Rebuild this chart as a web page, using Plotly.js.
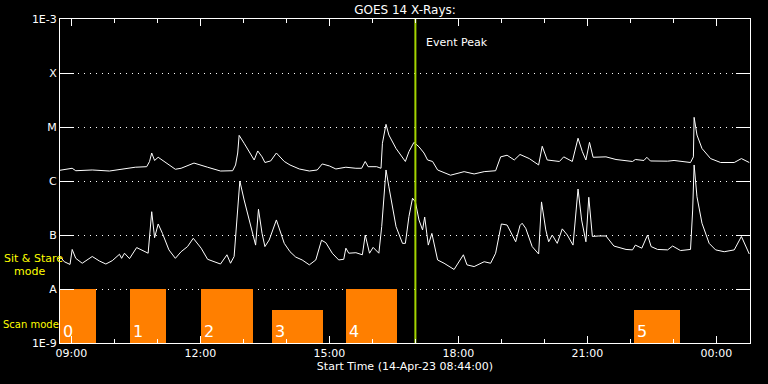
<!DOCTYPE html>
<html><head><meta charset="utf-8">
<script src="https://cdn.plot.ly/plotly-3.0.1.min.js"></script>
<style>html,body{margin:0;padding:0;background:#000;}#chart{width:768px;height:384px;}</style>
</head><body><div id="chart"></div>
<script>
const longTime = ["08:44","09:01","09:06","09:29","09:53","10:11","10:29","10:45","10:49","10:52",
"10:56","11:01","11:12","11:25","11:33","11:51","12:10","12:28","12:45","12:49",
"12:52","12:54","13:01","13:15","13:20","13:26","13:30","13:38","13:46","13:57",
"14:05","14:18","14:32","14:43","14:50","15:00","15:09","15:23","15:37","15:45",
"15:50","15:54","16:06","16:12","16:14","16:19","16:23","16:33","16:46","16:51",
"16:58","17:05","17:12","17:17","17:24","17:31","17:49","18:08","18:22","18:36",
"18:52","18:59","19:08","19:18","19:26","19:39","19:52","19:57","20:04","20:11",
"20:21","20:27","20:39","20:47","20:53","20:58","21:03","21:08","21:26","21:40",
"22:03","22:07","22:19","22:23","22:28","22:52","23:01","23:24","23:28","23:29",
"23:33","23:40","23:52","00:06","00:25","00:35","00:46"];
const longFlux = [1.58e-6,1.72e-6,1.55e-6,1.6e-6,1.53e-6,1.65e-6,1.8e-6,1.84e-6,2.3e-6,3.3e-6,
2.4e-6,2.75e-6,2.2e-6,1.65e-6,1.72e-6,2.15e-6,1.8e-6,1.53e-6,1.55e-6,1.98e-6,
3.3e-6,7.0e-6,5.0e-6,2.45e-6,3.6e-6,2.8e-6,2.2e-6,2.35e-6,3.3e-6,2.3e-6,
1.98e-6,1.67e-6,1.53e-6,1.6e-6,2.07e-6,1.9e-6,1.67e-6,1.8e-6,1.72e-6,1.72e-6,
2.3e-6,1.84e-6,1.84e-6,1.72e-6,5.0e-6,1.12e-5,7.1e-6,4.0e-6,2.3e-6,3.5e-6,
5.2e-6,4.3e-6,3.3e-6,2.45e-6,2.3e-6,1.6e-6,1.28e-6,1.49e-6,1.35e-6,1.49e-6,
1.55e-6,2.8e-6,3.0e-6,2.45e-6,3.1e-6,2.6e-6,1.98e-6,4.4e-6,2.45e-6,2.4e-6,
2.3e-6,2.8e-6,2.3e-6,6.2e-6,3.5e-6,2.45e-6,5.2e-6,2.75e-6,2.8e-6,2.5e-6,
2.3e-6,2.5e-6,2.4e-6,2.75e-6,2.35e-6,2.33e-6,2.4e-6,2.2e-6,2.8e-6,1.51e-5,
7.1e-6,4.0e-6,2.6e-6,2.2e-6,2.2e-6,2.6e-6,2.2e-6];
const shortTime = ["08:44","08:50","08:58","09:01","09:06","09:15","09:29","09:39","09:48","09:57",
"10:07","10:10","10:14","10:21","10:31","10:44","10:47","10:52","10:56","11:01",
"11:07","11:16","11:25","11:33","11:42","11:50","12:01","12:10","12:28","12:37",
"12:42","12:47","12:52","12:55","13:01","13:08","13:17","13:21","13:26","13:30",
"13:36","13:46","13:57","14:05","14:13","14:22","14:32","14:41","14:49","14:55",
"15:04","15:13","15:20","15:23","15:27","15:37","15:46","15:50","15:56","16:01",
"16:09","16:13","16:19","16:23","16:33","16:42","16:46","16:51","16:56","17:00",
"17:05","17:10","17:13","17:18","17:23","17:31","17:40","17:54","18:01","18:07",
"18:12","18:22","18:36","18:45","18:52","19:00","19:08","19:20","19:26","19:29",
"19:34","19:43","19:52","19:56","20:02","20:06","20:11","20:18","20:25","20:32",
"20:40","20:47","20:52","20:58","21:02","21:07","21:16","21:26","21:37","21:54",
"22:03","22:07","22:16","22:24","22:29","22:38","22:52","22:59","23:10","23:24",
"23:27","23:29","23:33","23:40","23:50","23:59","00:11","00:25","00:35","00:41","00:46"];
const shortFlux = [4.0e-8,3.2e-8,2.85e-8,5.4e-8,3.7e-8,3.0e-8,4.0e-8,3.3e-8,2.9e-8,3.35e-8,
4.4e-8,3.7e-8,4.6e-8,3.65e-8,5.85e-8,4.9e-8,4.6e-8,2.7e-7,8.9e-8,1.6e-7,
1.07e-7,5.3e-8,3.7e-8,4.9e-8,6.1e-8,8.7e-8,5.7e-8,3.55e-8,2.9e-8,4.3e-8,
3.0e-8,4.0e-8,2.9e-7,1.0e-6,4.45e-7,1.9e-7,6.5e-8,3.0e-7,1.07e-7,6.1e-8,
8.1e-8,1.9e-7,7.0e-8,4.9e-8,3.9e-8,3.45e-8,2.8e-8,3.45e-8,8.0e-8,7.2e-8,
4.6e-8,3.45e-8,3.55e-8,5.7e-8,4.6e-8,4.7e-8,4.3e-8,1.0e-7,4.6e-8,5.9e-8,
4.6e-8,1.43e-7,1.6e-6,7.8e-7,1.43e-7,7.0e-8,7.0e-8,2.2e-7,4.8e-7,4.1e-7,
1.9e-7,1.24e-7,2.15e-7,6.5e-8,1.07e-7,3.45e-8,3.0e-8,2.3e-8,3.2e-8,4.3e-8,
2.8e-8,2.6e-8,3.2e-8,3.0e-8,4.6e-8,1.6e-7,1.53e-7,7.5e-8,1.5e-7,1.65e-7,
1.33e-7,6.1e-8,4.45e-8,4.1e-7,1.24e-7,7.5e-8,1.0e-7,7.0e-8,1.3e-7,1.0e-7,
6.5e-8,7.1e-7,1.9e-7,7.5e-8,5.0e-7,9.4e-8,9.6e-8,9.6e-8,6.25e-8,5.4e-8,
5.3e-8,6.5e-8,5.7e-8,1.0e-7,6.1e-8,5.4e-8,5.3e-8,6.25e-8,5.15e-8,5.4e-8,
2.9e-7,1.98e-6,5.1e-7,1.65e-7,7.0e-8,5.3e-8,4.9e-8,5.3e-8,9.4e-8,6.1e-8,4.45e-8];
const scanLabels = ["0","1","2","3","4","5"];
const scanStart = ["08:44","10:22","12:01","13:40","15:23","22:05"];
const scanEnd = ["09:34","11:12","13:13","14:51","16:34","23:09"];
const scanTop = [1e-8,1e-8,1e-8,4.1e-9,1e-8,4.1e-9];
const yTickVals = [1e-9,1e-8,1e-7,1e-6,1e-5,1e-4,1e-3];
const yTickText = ["1E-9","A","B","C","M","X","1E-3"];
const eventPeak = "17:00";
const floorFlux = 1e-9;
const ceilFlux = 1e-3;
const rangeStart = "08:44";
const rangeEnd = "00:47";

function toDate(hm){ const h = parseInt(hm.slice(0,2),10); return (h<8?"2023-04-15 ":"2023-04-14 ")+hm; }
function toMs(hm){ return new Date(toDate(hm).replace(" ","T")+":00").getTime(); }

const FONT = "DejaVu Sans";
const lg = Math.log10;

const traces = [
  {type:"bar", x:scanStart.map(toDate), y:scanTop.map(t=>t-floorFlux), base:floorFlux,
   width:scanStart.map((s,i)=>toMs(scanEnd[i])-toMs(s)), offset:0,
   marker:{color:"#ff7f00", line:{width:0}}, hoverinfo:"skip"},
  {type:"scatter", mode:"lines", x:longTime.map(toDate), y:longFlux, line:{color:"#ffffff", width:1}, hoverinfo:"skip"},
  {type:"scatter", mode:"lines", x:shortTime.map(toDate), y:shortFlux, line:{color:"#ffffff", width:1}, hoverinfo:"skip"},
  {type:"scatter", mode:"lines", x:[toDate(eventPeak),toDate(eventPeak)], y:[floorFlux,ceilFlux], line:{color:"#a4d400", width:2}, hoverinfo:"skip"}
];

const annotations = [
  {xref:"x", yref:"y", x:toDate(eventPeak), y:-3.435, xanchor:"left", yanchor:"middle", xshift:9, text:"Event Peak", showarrow:false, font:{family:FONT, size:11, color:"#ffffff"}},
  {xref:"paper", yref:"y", x:(2-60)/690, y:-7.44, xanchor:"left", yanchor:"middle", text:"Sit & Stare", showarrow:false, font:{family:FONT, size:11, color:"#ffff00"}},
  {xref:"paper", yref:"y", x:(12-60)/690, y:-7.67, xanchor:"left", yanchor:"middle", text:"mode", showarrow:false, font:{family:FONT, size:11, color:"#ffff00"}},
  {xref:"paper", yref:"y", x:(1-60)/690, y:-8.65, xanchor:"left", yanchor:"middle", text:"Scan mode", showarrow:false, font:{family:FONT, size:10, color:"#ffff00"}}
];
scanLabels.forEach((lab,i)=>{
  annotations.push({xref:"x", yref:"y", x:toDate(scanStart[i]), y:lg(floorFlux), xanchor:"left", yanchor:"bottom", xshift:1, yshift:0,
    text:lab, showarrow:false, font:{family:FONT, size:16, color:"#ffffff"}});
});

const layout = {
  width:768, height:384,
  paper_bgcolor:"#000000", plot_bgcolor:"#000000",
  margin:{l:60, r:18, t:19, b:41},
  showlegend:false,
  bargap:0,
  title:{text:"GOES 14 X-Rays:", font:{family:FONT, size:12, color:"#ffffff"}, x:0.5, xref:"paper", xanchor:"center", y:1-10/384, yref:"container", yanchor:"middle"},
  xaxis:{type:"date", range:[toDate(rangeStart), toDate(rangeEnd)], tick0:"2023-04-14 00:00", dtick:10800000, tickformat:"%H:%M",
    ticks:"inside", ticklen:7, tickcolor:"#ffffff", tickwidth:1, showline:true, linecolor:"#ffffff", linewidth:1, mirror:"ticks",
    showgrid:false, zeroline:false, tickfont:{family:FONT, size:11, color:"#ffffff"},
    minor:{dtick:3600000, tick0:"2023-04-14 00:00", ticks:"inside", ticklen:4, tickcolor:"#ffffff", showgrid:false},
    title:{text:"Start Time (14-Apr-23 08:44:00)", font:{family:FONT, size:11, color:"#ffffff"}, standoff:2}},
  yaxis:{type:"log", range:[lg(floorFlux), lg(ceilFlux)], tickmode:"array", tickvals:yTickVals, ticktext:yTickText,
    ticks:"inside", ticklen:14, tickcolor:"#ffffff", tickwidth:1, showline:true, linecolor:"#ffffff", linewidth:1, mirror:"ticks",
    showgrid:true, gridcolor:"#ffffff", gridwidth:1, griddash:"1px,5px", zeroline:false,
    tickfont:{family:FONT, size:11, color:"#ffffff"}},
  annotations:annotations
};

Plotly.newPlot("chart", traces, layout, {staticPlot:true, displayModeBar:false});
</script>
</body></html>
